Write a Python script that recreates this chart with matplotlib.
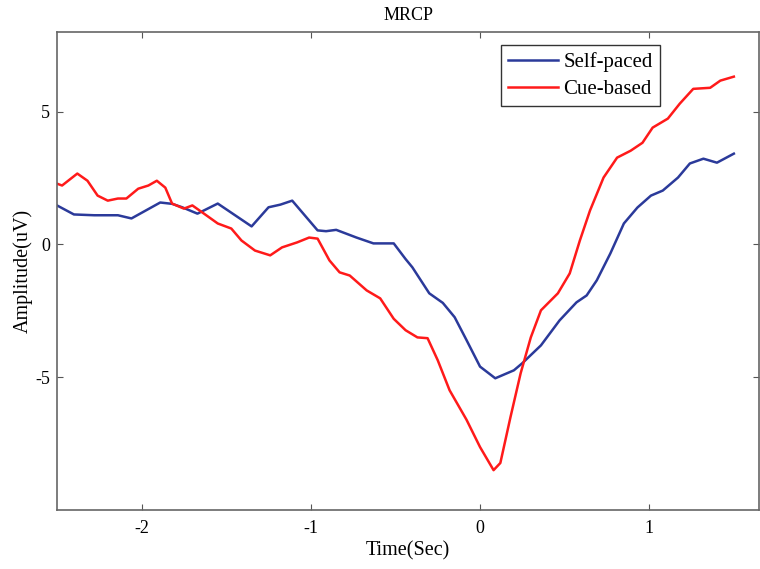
import matplotlib.pyplot as plt

plt.rcParams["font.family"] = ["Liberation Serif", "DejaVu Serif"]
plt.rcParams["axes.unicode_minus"] = False

# tempo (s) e amplitude (uV)
t_self = [-2.50, -2.40, -2.28, -2.14, -2.06, -1.89, -1.82, -1.76, -1.67, -1.55,
          -1.35, -1.25, -1.18, -1.11, -0.96, -0.91, -0.85, -0.73, -0.63, -0.51,
          -0.44, -0.40, -0.30, -0.22, -0.15, -0.08, 0.00, 0.09, 0.20, 0.25,
          0.36, 0.47, 0.57, 0.63, 0.69, 0.77, 0.85, 0.93, 1.01, 1.08,
          1.17, 1.24, 1.32, 1.40, 1.50]
amp_self = [1.47, 1.13, 1.10, 1.10, 0.98, 1.58, 1.53, 1.40, 1.16, 1.54,
            0.68, 1.40, 1.50, 1.65, 0.53, 0.50, 0.55, 0.26, 0.04, 0.04,
            -0.55, -0.86, -1.84, -2.20, -2.74, -3.60, -4.60, -5.04, -4.74, -4.47,
            -3.80, -2.86, -2.18, -1.92, -1.35, -0.34, 0.79, 1.39, 1.84, 2.03,
            2.52, 3.05, 3.23, 3.08, 3.42]

t_cue = [-2.50, -2.47, -2.38, -2.32, -2.26, -2.20, -2.14, -2.09, -2.02, -1.96,
         -1.91, -1.86, -1.82, -1.75, -1.70, -1.64, -1.55, -1.47, -1.41, -1.33,
         -1.24, -1.17, -1.08, -1.01, -0.96, -0.89, -0.83, -0.77, -0.67, -0.59,
         -0.51, -0.44, -0.37, -0.31, -0.25, -0.18, -0.08, 0.00, 0.08, 0.12,
         0.18, 0.24, 0.30, 0.36, 0.46, 0.53, 0.59, 0.65, 0.73, 0.81,
         0.89, 0.96, 1.02, 1.11, 1.18, 1.26, 1.36, 1.42, 1.50]
amp_cue = [2.29, 2.22, 2.67, 2.40, 1.84, 1.65, 1.73, 1.73, 2.10, 2.22,
           2.40, 2.14, 1.54, 1.35, 1.47, 1.20, 0.79, 0.60, 0.15, -0.23,
           -0.41, -0.11, 0.08, 0.26, 0.22, -0.60, -1.05, -1.17, -1.73, -2.03,
           -2.80, -3.23, -3.50, -3.53, -4.36, -5.49, -6.60, -7.63, -8.50, -8.23,
           -6.50, -4.85, -3.50, -2.48, -1.84, -1.09, 0.15, 1.28, 2.52, 3.27,
           3.53, 3.83, 4.40, 4.74, 5.30, 5.86, 5.90, 6.17, 6.32]

fig = plt.figure(figsize=(7.6, 5.69), dpi=100)
ax = fig.add_axes([0.075, 0.1037, 0.924, 0.84])

ax.plot(t_self, amp_self, color="#2b3a9a", lw=1.8, label="Self-paced")
ax.plot(t_cue, amp_cue, color="#ff1a1a", lw=1.8, label="Cue-based")

ax.set_xlim(-2.5, 1.65)
ax.set_ylim(-10, 8)
ax.set_xticks([-2, -1, 0, 1])
ax.set_yticks([-5, 0, 5])
ax.tick_params(direction="in", length=4, top=True, right=True, labelsize=13,
               color="#555555")
ax.tick_params(axis="x", pad=7)
ax.tick_params(axis="y", pad=5)
for s in ax.spines.values():
    s.set_color("#666666")
    s.set_linewidth(1.2)

ax.set_title("MRCP", fontsize=13, pad=9)
ax.set_xlabel("Time(Sec)", fontsize=14.5, labelpad=3)
ax.set_ylabel("Amplitude(uV)", fontsize=14.5, labelpad=2)

leg = ax.legend(loc="upper right", bbox_to_anchor=(0.859, 0.973), fontsize=15,
                fancybox=False, edgecolor="#333333", framealpha=1,
                handlelength=2.4, borderpad=0.35, labelspacing=0.35,
                handletextpad=0.25, borderaxespad=0)
leg.get_frame().set_linewidth(1.0)

plt.savefig("out.png", dpi=100)
